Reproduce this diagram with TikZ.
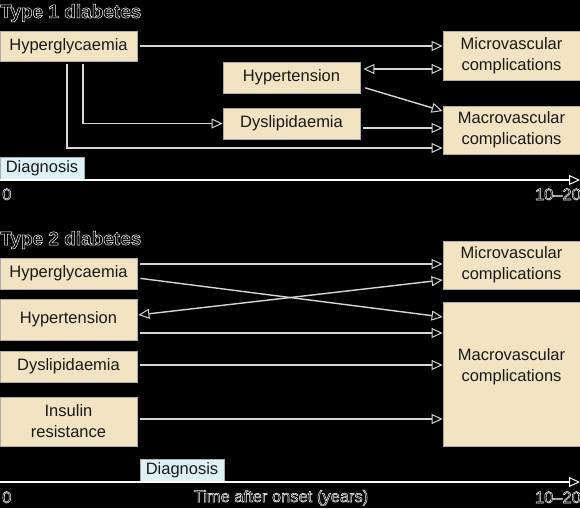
\documentclass[tikz,border=0pt]{standalone}
\usepackage{fontspec}
\setmainfont{Liberation Sans}
\usepackage{tikz}
\usetikzlibrary{arrows.meta}
\definecolor{boxfill}{RGB}{242,227,194}
\definecolor{diagfill}{RGB}{221,242,246}
\definecolor{linegrey}{RGB}{214,214,214}
\newcommand{\hollow}[1]{\special{pdf:literal direct 1 Tr 0.5 w}#1\special{pdf:literal direct 0 Tr}}
\tikzstyle{factor} = [rectangle, draw=gray!65, fill=boxfill, line width=0.8pt,
minimum width=137pt, inner sep=0pt, align=center, text=black!90,
font=\fontsize{16.5}{21}\selectfont]
\tikzstyle{outcome} = [factor]
\tikzstyle{diagnosis} = [rectangle, draw=gray!65, fill=diagfill, line width=0.8pt,
minimum width=84pt, minimum height=23pt, inner sep=0pt, text=black!90,
font=\fontsize{16.5}{21}\selectfont]
\tikzstyle{title} = [inner sep=0pt, text=white, font=\fontsize{19}{22}\selectfont\bfseries]
\tikzstyle{tick} = [inner sep=0pt, text=white, font=\fontsize{16.5}{20}\selectfont]
\tikzstyle{arrow} = [draw=linegrey, line width=1.4pt, shorten <=3pt,
-{Triangle[length=11pt, width=10pt, fill=black, line width=1pt]}]
\tikzstyle{twoway} = [arrow, shorten <=0pt,
{Triangle[length=11pt, width=10pt, fill=black, line width=1pt]}-{Triangle[length=11pt, width=10pt, fill=black, line width=1pt]}]
\tikzstyle{timeline} = [draw=white, line width=1.2pt,
-{Triangle[length=11pt, width=10pt, fill=black, line width=1pt]}]

\begin{document}
\begin{tikzpicture}[x=1pt, y=-1pt]
\useasboundingbox (0,0) rectangle (580,508);
\fill[black] (0,0) rectangle (580,508);

% type 1
\node(titleA)[title, anchor=base west] at (0,18) {\hollow{Type 1 diabetes}};
\node(hyperA)[factor, minimum height=30pt] at (68.5,46) {Hyperglycaemia};
\node(tensionA)[factor, minimum height=31pt] at (291.5,77.5) {Hypertension};
\node(lipidA)[factor, minimum height=31pt] at (291.5,123.5) {Dyslipidaemia};
\node(microA)[outcome, minimum height=49pt] at (511.5,55.5) {Microvascular\\complications};
\node(macroA)[outcome, minimum height=48pt] at (511.5,130) {Macrovascular\\complications};
\node(diagA)[diagnosis] at (42,168.5) {Diagnosis};
\coordinate(startA) at (0,180);
\coordinate(endA) at (580,180);
\node(zeroA)[tick, anchor=base west] at (2,200) {\hollow{0}};
\node(yearsA)[tick, anchor=base east] at (581,200) {\hollow{10--20}};

\draw[arrow](hyperA.east) -- (hyperA.east -| microA.west);
\draw[twoway]([xshift=3pt, yshift=8.5pt]tensionA.east) -- ([yshift=8.5pt]tensionA.east -| microA.west);
\draw[arrow]([xshift=2pt, yshift=-9.5pt]tensionA.east) -- ([yshift=19pt]macroA.west);
\draw[arrow]([yshift=-4.5pt]lipidA.east) -- ([yshift=-4.5pt]lipidA.east -| macroA.west);
\draw[arrow]([xshift=14.5pt]hyperA.south) |- (lipidA.west);
\draw[arrow]([xshift=-1.5pt]hyperA.south) |- ([yshift=-18pt]macroA.west);
\draw[timeline](startA) -- (endA);

% type 2
\node(titleB)[title, anchor=base west] at (0,245) {\hollow{Type 2 diabetes}};
\node(hyperB)[factor, minimum height=31pt] at (68.5,273.5) {Hyperglycaemia};
\node(tensionB)[factor, minimum height=41pt] at (68.5,319.5) {Hypertension};
\node(lipidB)[factor, minimum height=31pt] at (68.5,366.5) {Dyslipidaemia};
\node(insulinB)[factor, minimum height=49pt] at (68.5,421.5) {Insulin\\resistance};
\node(microB)[outcome, minimum height=48pt] at (511.5,265) {Microvascular\\complications};
\node(macroB)[outcome, minimum height=144pt] at (511.5,374) {Macrovascular\\complications\\[-3pt]};
\node(diagB)[diagnosis] at (182,470.5) {Diagnosis};
\coordinate(startB) at (0,482);
\coordinate(endB) at (580,482);
\node(zeroB)[tick, anchor=base west] at (2,503) {\hollow{0}};
\node(axisB)[tick, anchor=base] at (281,502) {\hollow{Time after onset (years)}};
\node(yearsB)[tick, anchor=base east] at (581,503) {\hollow{10--20}};

\draw[arrow]([yshift=9.5pt]hyperB.east) -- ([yshift=9.5pt]hyperB.east -| microB.west);
\draw[arrow]([yshift=-4.5pt]hyperB.east) -- ([yshift=57pt]macroB.west);
\draw[twoway]([xshift=1pt, yshift=4.5pt]tensionB.east) -- ([yshift=-15pt]microB.west);
\draw[arrow]([yshift=-13.5pt]tensionB.east) -- ([yshift=-13.5pt]tensionB.east -| macroB.west);
\draw[arrow]([yshift=1.5pt]lipidB.east) -- ([yshift=1.5pt]lipidB.east -| macroB.west);
\draw[arrow]([yshift=2.5pt]insulinB.east) -- ([yshift=2.5pt]insulinB.east -| macroB.west);
\draw[timeline](startB) -- (endB);
\end{tikzpicture}
\end{document}
